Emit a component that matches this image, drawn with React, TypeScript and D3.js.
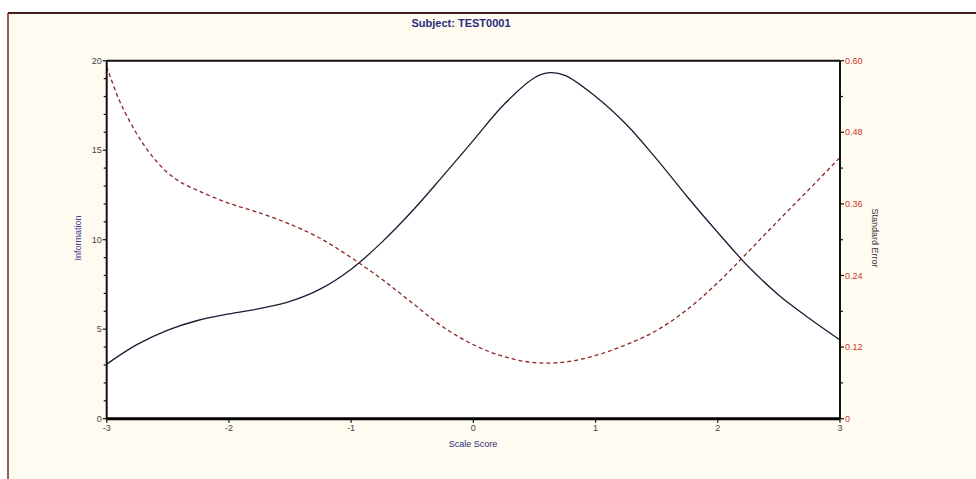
import React from "react";
import * as d3 from "d3";

const titleText = "Subject: TEST0001";
const xLabel = "Scale Score";
const yLeftLabel = "Information";
const yRightLabel = "Standard Error";

const xTicks = [-3, -2, -1, 0, 1, 2, 3];
const infoTicks = [0, 5, 10, 15, 20];
const infoMinor = [1, 2, 3, 4, 6, 7, 8, 9, 11, 12, 13, 14, 16, 17, 18, 19];
const seTicks = [0, 0.12, 0.24, 0.36, 0.48, 0.6];
const seTickLabels = ["0", "0.12", "0.24", "0.36", "0.48", "0.60"];
const seMinor = [0.06, 0.18, 0.3, 0.42, 0.54];

const infoX = [-3, -2.75, -2.5, -2.25, -2, -1.75, -1.5, -1.25, -1, -0.75, -0.5, -0.25, 0, 0.25, 0.5, 0.625, 0.75, 1, 1.25, 1.5, 1.75, 2, 2.25, 2.5, 2.75, 3];
const infoY = [3.05, 4.15, 4.95, 5.5, 5.85, 6.15, 6.55, 7.25, 8.35, 9.85, 11.6, 13.55, 15.55, 17.55, 19.05, 19.33, 19.18, 18.0, 16.45, 14.5, 12.4, 10.4, 8.5, 6.9, 5.6, 4.4];

const seX = [-3, -2.9, -2.8, -2.7, -2.6, -2.5, -2.4, -2.25, -2, -1.75, -1.5, -1.25, -1, -0.75, -0.5, -0.25, 0, 0.25, 0.5, 0.75, 1, 1.25, 1.5, 1.75, 2, 2.25, 2.5, 2.75, 3];
const seY = [0.59, 0.535, 0.494, 0.46, 0.433, 0.412, 0.397, 0.382, 0.361, 0.345, 0.326, 0.302, 0.27, 0.234, 0.194, 0.154, 0.124, 0.104, 0.094, 0.095, 0.106, 0.124, 0.148, 0.183, 0.228, 0.28, 0.333, 0.385, 0.438];

const W = 976;
const H = 479;
const L = 106.7, R = 840, T = 60.7, B = 418.7;

export default function App() {
  const x = d3.scaleLinear().domain([-3, 3]).range([L, R]);
  const yI = d3.scaleLinear().domain([0, 20]).range([B, T]);
  const yS = d3.scaleLinear().domain([0, 0.6]).range([B, T]);

  const infoPts = infoX.map((v, i) => [v, infoY[i]] as [number, number]);
  const sePts = seX.map((v, i) => [v, seY[i]] as [number, number]);

  const infoLine = d3
    .line<[number, number]>()
    .x((d) => x(d[0]))
    .y((d) => yI(d[1]))
    .curve(d3.curveCatmullRom.alpha(0.5));
  const seLine = d3
    .line<[number, number]>()
    .x((d) => x(d[0]))
    .y((d) => yS(d[1]))
    .curve(d3.curveCatmullRom.alpha(0.5));

  const font = "'Liberation Sans', Arial, sans-serif";

  return (
    <div style={{ position: "fixed", left: 0, top: 0, width: W, height: H, background: "#fff" }}>
      <svg width={W} height={H} style={{ display: "block" }} fontFamily={font}>
        <rect x={0} y={0} width={W} height={H} fill="#ffffff" />
        <rect x={8} y={13} width={W} height={H} fill="#fffbf0" />
        <line x1={8} y1={13} x2={W} y2={13} stroke="#4a1c1c" strokeWidth={2} />
        <line x1={8} y1={13} x2={8} y2={H} stroke="#7a2020" strokeWidth={1.5} />

        <text x={461} y={27} textAnchor="middle" fontSize={11} fontWeight="bold" fill="#2b2b7a">
          {titleText}
        </text>

        <rect x={L} y={T} width={R - L} height={B - T} fill="#ffffff" />

        {/* curves */}
        <path d={infoLine(infoPts) || ""} fill="none" stroke="#1a1a33" strokeWidth={1.3} />
        <path d={seLine(sePts) || ""} fill="none" stroke="#8b2323" strokeWidth={1.3} strokeDasharray="4,3" />

        {/* frame */}
        <line x1={L} y1={T} x2={R} y2={T} stroke="#111" strokeWidth={2} />
        <line x1={L} y1={B} x2={R} y2={B} stroke="#000" strokeWidth={3} />
        <line x1={L} y1={T} x2={L} y2={B} stroke="#111" strokeWidth={2} />
        <line x1={R} y1={T} x2={R} y2={B} stroke="#111" strokeWidth={2} />

        {/* left axis */}
        {infoTicks.map((t) => (
          <g key={"il" + t}>
            <line x1={L - 4} x2={L} y1={yI(t)} y2={yI(t)} stroke="#111" strokeWidth={1.2} />
            <text x={L - 5} y={yI(t) + 3} textAnchor="end" fontSize={9} fill="#444">
              {t}
            </text>
          </g>
        ))}
        {infoMinor.map((t) => (
          <line key={"im" + t} x1={L - 3} x2={L} y1={yI(t)} y2={yI(t)} stroke="#111" strokeWidth={1.2} />
        ))}

        {/* right axis */}
        {seTicks.map((t, i) => (
          <g key={"sl" + t}>
            <line x1={R} x2={R + 4} y1={yS(t)} y2={yS(t)} stroke="#111" strokeWidth={1.2} />
            <text x={R + 5} y={yS(t) + 3} textAnchor="start" fontSize={9} fill="#cc3333">
              {seTickLabels[i]}
            </text>
          </g>
        ))}
        {seMinor.map((t) => (
          <line key={"sm" + t} x1={R} x2={R + 3} y1={yS(t)} y2={yS(t)} stroke="#111" strokeWidth={1.2} />
        ))}

        {/* bottom axis */}
        {xTicks.map((t) => (
          <g key={"x" + t}>
            <line x1={x(t)} x2={x(t)} y1={B} y2={B + 4} stroke="#111" strokeWidth={1.2} />
            <text x={x(t)} y={B + 12} textAnchor="middle" fontSize={9} fill="#444">
              {t}
            </text>
          </g>
        ))}

        <text x={473} y={447} textAnchor="middle" fontSize={9} fill="#2b2b7a">
          {xLabel}
        </text>
        <text
          transform={`translate(81,238) rotate(-90)`}
          textAnchor="middle"
          fontSize={9}
          fill="#3a3a99"
        >
          {yLeftLabel}
        </text>
        <text
          transform={`translate(872,238) rotate(90)`}
          textAnchor="middle"
          fontSize={9}
          fill="#333"
        >
          {yRightLabel}
        </text>
      </svg>
    </div>
  );
}
